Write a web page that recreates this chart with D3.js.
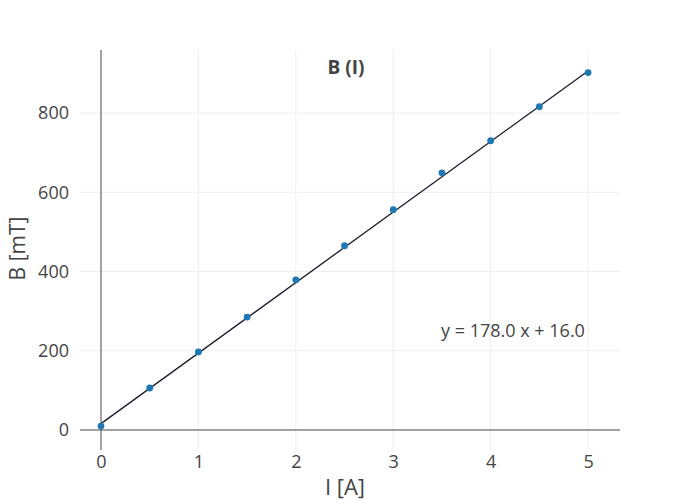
<!DOCTYPE html>
<html><head><meta charset="utf-8">
<script src="https://cdn.jsdelivr.net/npm/d3@7"></script>
<style>body{margin:0;background:#fff}svg{display:block}text{font-family:"Open Sans",sans-serif}</style>
</head><body>
<script>
const currentA = [0, 0.5, 1, 1.5, 2, 2.5, 3, 3.5, 4, 4.5, 5];
const fieldMT = [10, 106, 197, 285, 379, 465, 556, 649, 730, 816, 902];
const fitSlope = 178.0;
const fitIntercept = 16.0;
const xTicks = [0, 1, 2, 3, 4, 5];
const yTicks = [0, 200, 400, 600, 800];
const titleText = "B (I)";
const xTitle = "I [A]";
const yTitle = "B [mT]";
const fitLabel = "y = 178.0 x + 16.0";

const W = 700, H = 500, m = {l: 80, r: 80, t: 50, b: 50};
const svg = d3.select("body").append("svg").attr("width", W).attr("height", H);
const x = d3.scaleLinear().domain([-0.2156, 5.328]).range([m.l, W - m.r]);
const y = d3.scaleLinear().domain([-50.5, 959]).range([H - m.b, m.t]);

const g = svg.append("g");
g.selectAll(".vg").data(xTicks.filter(d => d !== 0)).join("line")
  .attr("x1", d => x(d)).attr("x2", d => x(d)).attr("y1", m.t).attr("y2", H - m.b)
  .attr("stroke", "#eee").attr("stroke-width", 1);
g.selectAll(".hg").data(yTicks.filter(d => d !== 0)).join("line")
  .attr("y1", d => y(d)).attr("y2", d => y(d)).attr("x1", m.l).attr("x2", W - m.r)
  .attr("stroke", "#eee").attr("stroke-width", 1);
g.append("line").attr("x1", x(0)).attr("x2", x(0)).attr("y1", m.t).attr("y2", H - m.b)
  .attr("stroke", "#444").attr("stroke-width", 1);
g.append("line").attr("y1", y(0)).attr("y2", y(0)).attr("x1", m.l).attr("x2", W - m.r)
  .attr("stroke", "#444").attr("stroke-width", 1);

const xAxis = d3.axisBottom(x).tickValues(xTicks).tickSize(0).tickPadding(0).tickFormat(d3.format("d"));
const xa = svg.append("g").attr("transform", `translate(0,${H - m.b + 5})`).call(xAxis);
xa.select(".domain").remove();
xa.selectAll("text").attr("font-size", 18).attr("fill", "#444").attr("font-family", "Open Sans").attr("dy", "0.71em");
const yAxis = d3.axisLeft(y).tickValues(yTicks).tickSize(0).tickPadding(0).tickFormat(d3.format("d"));
const ya = svg.append("g").attr("transform", `translate(${m.l - 11},0)`).call(yAxis);
ya.select(".domain").remove();
ya.selectAll("text").attr("font-size", 18).attr("fill", "#444").attr("font-family", "Open Sans");

svg.append("line")
  .attr("x1", x(currentA[0])).attr("y1", y(fitSlope * currentA[0] + fitIntercept))
  .attr("x2", x(currentA[currentA.length - 1])).attr("y2", y(fitSlope * currentA[currentA.length - 1] + fitIntercept))
  .attr("stroke", "#1a1a2a").attr("stroke-width", 1.3);

svg.selectAll(".pt").data(currentA.map((a, i) => [a, fieldMT[i]])).join("circle")
  .attr("cx", d => x(d[0])).attr("cy", d => y(d[1])).attr("r", 3.4)
  .attr("fill", "#1f77b4");

svg.append("text").attr("x", 346).attr("y", 74).attr("text-anchor", "middle")
  .attr("font-size", 19).attr("font-weight", "bold").attr("fill", "#444").text(titleText);
svg.append("text").attr("x", 345).attr("y", 495).attr("text-anchor", "middle")
  .attr("font-size", 22).attr("fill", "#444").text(xTitle);
svg.append("text").attr("transform", `translate(25,${y(400) - 23}) rotate(-90)`).attr("text-anchor", "middle")
  .attr("font-size", 21).attr("fill", "#444").text(yTitle);
svg.append("text").attr("x", 441).attr("y", 337).attr("text-anchor", "start")
  .attr("font-size", 18).attr("fill", "#444").text(fitLabel);
</script>
</body></html>
